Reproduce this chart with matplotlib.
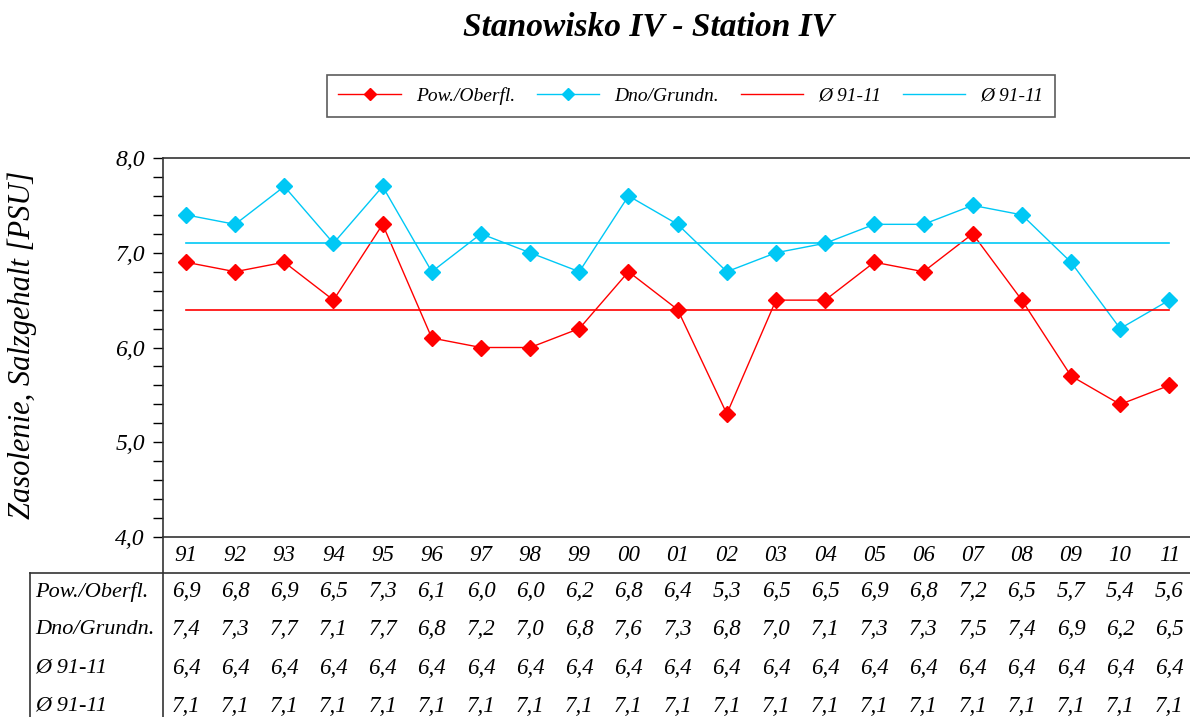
import matplotlib.pyplot as plt
from matplotlib.lines import Line2D
import matplotlib.transforms as mtransforms


years = ["91", "92", "93", "94", "95", "96", "97", "98", "99", "00", "01",
         "02", "03", "04", "05", "06", "07", "08", "09", "10", "11"]

surface = [6.9, 6.8, 6.9, 6.5, 7.3, 6.1, 6.0, 6.0, 6.2, 6.8, 6.4,
           5.3, 6.5, 6.5, 6.9, 6.8, 7.2, 6.5, 5.7, 5.4, 5.6]
bottom = [7.4, 7.3, 7.7, 7.1, 7.7, 6.8, 7.2, 7.0, 6.8, 7.6, 7.3,
          6.8, 7.0, 7.1, 7.3, 7.3, 7.5, 7.4, 6.9, 6.2, 6.5]
surface_mean = [6.4] * len(years)
bottom_mean = [7.1] * len(years)

row_labels = ["Pow./Oberfl.", "Dno/Grundn.", "Ø 91-11", "Ø 91-11"]

RED = "#FF0000"
CYAN = "#00C8F5"

plt.rcParams["font.family"] = ["Liberation Serif", "DejaVu Serif"]
plt.rcParams["font.style"] = "italic"

fig = plt.figure(figsize=(11.9, 7.17), dpi=100)
ax = fig.add_axes([163 / 1190, 1 - 537 / 717, 1 - 163 / 1190, (537 - 158) / 717])

x = list(range(len(years)))

ax.plot(x, surface, color=RED, lw=1, marker="D", markersize=8,
        label="Pow./Oberfl.")
ax.plot(x, bottom, color=CYAN, lw=1, marker="D", markersize=8,
        label="Dno/Grundn.")
ax.plot(x, surface_mean, color=RED, lw=1.2, label="Ø 91-11")
ax.plot(x, bottom_mean, color=CYAN, lw=1.2, label="Ø 91-11")

ax.set_xlim(-0.467, 20.42)
ax.set_ylim(4.0, 8.0)
ax.set_yticks([4.0, 5.0, 6.0, 7.0, 8.0])
ax.set_yticklabels(["4,0", "5,0", "6,0", "7,0", "8,0"], fontsize=17)
ax.set_yticks([4.0 + 0.2 * i for i in range(21)], minor=True)
ax.tick_params(axis="y", which="both", direction="out", length=7, width=1,
               pad=6)
ax.set_xticks([])
ax.spines["right"].set_visible(False)
for side in ["left", "top", "bottom"]:
    ax.spines[side].set_linewidth(1.2)
    ax.spines[side].set_color("#333333")

fig.text(22 / 1190, 1 - 345 / 717, "Zasolenie, Salzgehalt [PSU]",
         rotation=90, ha="center", va="center", fontsize=22)

# data table below the plot
trans = mtransforms.blended_transform_factory(ax.transData, ax.transAxes)

for i, yr in enumerate(years):
    ax.text(i, -0.048, yr, transform=trans, ha="center", va="center",
            fontsize=16.5)

rows = [surface, bottom, surface_mean, bottom_mean]
row_y = [-0.145, -0.245, -0.346, -0.446]
for vals, ry, lab in zip(rows, row_y, row_labels):
    ax.text(-0.467 - 2.6, ry, lab, transform=trans, ha="left", va="center",
            fontsize=16)
    for i, v in enumerate(vals):
        ax.text(i, ry, f"{v:.1f}".replace(".", ","), transform=trans,
                ha="center", va="center", fontsize=16.5)

line_kw = dict(color="#333333", lw=1.2, transform=fig.transFigure)
fig.add_artist(Line2D([30 / 1190, 1.0], [1 - 573 / 717] * 2, **line_kw))
fig.add_artist(Line2D([30 / 1190] * 2, [1 - 573 / 717, 0], **line_kw))
fig.add_artist(Line2D([163 / 1190] * 2, [1 - 537 / 717, 0], **line_kw))

fig.text(0.545, 1 - 27 / 717, "Stanowisko IV - Station IV", ha="center",
         va="center", fontsize=24, fontweight="bold")

handles = [
    Line2D([], [], color=RED, lw=1, marker="D", markersize=6),
    Line2D([], [], color=CYAN, lw=1, marker="D", markersize=6),
    Line2D([], [], color=RED, lw=1),
    Line2D([], [], color=CYAN, lw=1),
]
leg = fig.legend(handles, ["Pow./Oberfl.", "Dno/Grundn.", "Ø 91-11", "Ø 91-11"],
                 loc="center", bbox_to_anchor=(691 / 1190, 1 - 96 / 717),
                 ncol=4, fontsize=14, frameon=True, fancybox=False,
                 edgecolor="#333333", handlelength=3.2, columnspacing=1.1,
                 borderpad=0.6)
leg.get_frame().set_linewidth(1.2)

fig.savefig("out.png", dpi=100)
